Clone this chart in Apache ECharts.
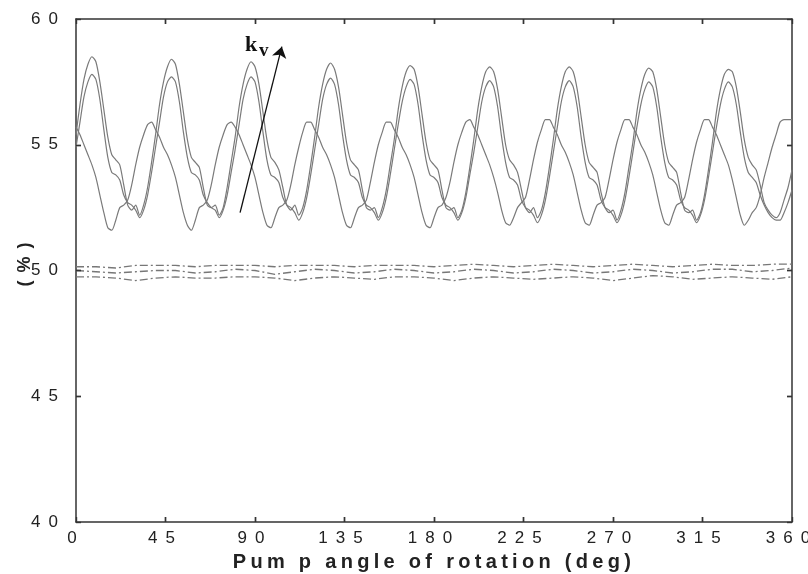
<!DOCTYPE html>
<html>
<head>
<meta charset="utf-8">
<script src="https://cdn.jsdelivr.net/npm/echarts@6/dist/echarts.min.js"></script>
<style>
  html, body { margin: 0; padding: 0; background: #fff; }
  #chart { width: 808px; height: 574px; }
</style>
</head>
<body>
<div id="chart"></div>
<script>
// Sample grid (deg) for the oscillating curves, every 2 degrees
const angleStep = 2;
const angles = [];
for (let a = 0; a <= 360; a += angleStep) angles.push(a);

// Curve 1 (highest peaks)
const curveA = [
  55.4, 56.6, 57.6, 58.2, 58.5, 58.3, 57.5, 56.4, 55.3, 54.6, 54.4, 54.2, 53.4, 52.6, 52.4, 52.6, 52.2, 52.6, 53.3, 54.3,
  55.4, 56.6, 57.5, 58.1, 58.4, 58.2, 57.4, 56.3, 55.2, 54.5, 54.3, 54.1, 53.3, 52.6, 52.5, 52.6, 52.2, 52.5, 53.3, 54.3,
  55.3, 56.5, 57.4, 58.0, 58.3, 58.1, 57.4, 56.3, 55.2, 54.5, 54.3, 54.0, 53.3, 52.6, 52.4, 52.6, 52.2, 52.5, 53.2, 54.2,
  55.3, 56.5, 57.4, 58.0, 58.25, 58.0, 57.3, 56.2, 55.1, 54.4, 54.2, 54.0, 53.2, 52.5, 52.4, 52.5, 52.1, 52.5, 53.2, 54.2,
  55.2, 56.4, 57.3, 57.9, 58.15, 58.0, 57.3, 56.2, 55.1, 54.4, 54.2, 54.0, 53.2, 52.5, 52.4, 52.5, 52.1, 52.4, 53.1, 54.1,
  55.2, 56.4, 57.3, 57.9, 58.1, 57.9, 57.2, 56.1, 55.0, 54.4, 54.2, 53.9, 53.2, 52.5, 52.3, 52.5, 52.1, 52.4, 53.1, 54.1,
  55.2, 56.4, 57.3, 57.9, 58.1, 57.9, 57.2, 56.1, 55.0, 54.3, 54.1, 53.9, 53.1, 52.5, 52.3, 52.4, 52.0, 52.4, 53.1, 54.1,
  55.1, 56.3, 57.2, 57.8, 58.05, 57.9, 57.2, 56.1, 55.0, 54.3, 54.1, 53.9, 53.1, 52.4, 52.3, 52.4, 52.0, 52.3, 53.0, 54.0,
  55.1, 56.3, 57.2, 57.8, 58.0, 57.9, 57.3, 56.3, 55.2, 54.5, 54.2, 54.0, 53.4, 52.7, 52.4, 52.2, 52.1, 52.3, 52.8, 53.3,
  54.0
];

// Curve 2 (slightly lower peaks)
const curveB = [
  54.9, 55.9, 56.9, 57.5, 57.8, 57.6, 56.8, 55.6, 54.5, 53.9, 53.8, 53.6, 53.0, 52.7, 52.6, 52.4, 52.1, 52.4, 53.0, 53.9,
  54.9, 55.9, 56.9, 57.5, 57.7, 57.5, 56.7, 55.5, 54.5, 53.9, 53.8, 53.6, 53.0, 52.7, 52.5, 52.4, 52.1, 52.4, 53.0, 53.9,
  54.8, 55.8, 56.8, 57.4, 57.7, 57.5, 56.7, 55.5, 54.4, 53.8, 53.7, 53.5, 52.9, 52.6, 52.5, 52.3, 52.0, 52.3, 52.9, 53.8,
  54.8, 55.8, 56.8, 57.4, 57.65, 57.4, 56.6, 55.4, 54.4, 53.8, 53.7, 53.5, 52.9, 52.6, 52.5, 52.3, 52.0, 52.3, 52.9, 53.8,
  54.8, 55.8, 56.7, 57.3, 57.6, 57.4, 56.6, 55.4, 54.4, 53.8, 53.7, 53.5, 52.9, 52.6, 52.5, 52.3, 52.0, 52.3, 52.9, 53.8,
  54.7, 55.7, 56.7, 57.3, 57.55, 57.3, 56.5, 55.3, 54.3, 53.7, 53.6, 53.4, 52.8, 52.5, 52.4, 52.2, 51.9, 52.2, 52.8, 53.7,
  54.7, 55.7, 56.7, 57.3, 57.55, 57.3, 56.5, 55.3, 54.3, 53.7, 53.6, 53.4, 52.8, 52.5, 52.4, 52.2, 51.9, 52.2, 52.8, 53.7,
  54.7, 55.7, 56.6, 57.2, 57.5, 57.3, 56.5, 55.3, 54.3, 53.7, 53.6, 53.4, 52.8, 52.5, 52.4, 52.2, 51.9, 52.2, 52.8, 53.7,
  54.7, 55.7, 56.6, 57.2, 57.5, 57.3, 56.6, 55.5, 54.5, 53.9, 53.7, 53.5, 53.0, 52.6, 52.3, 52.1, 52.0, 52.0, 52.3, 52.7,
  53.2
];

// Curve 3 (phase-shifted, lower amplitude)
const curveC = [
  55.7, 55.4, 55.0, 54.6, 54.2, 53.7, 53.0, 52.3, 51.7, 51.6, 52.0, 52.5, 52.6, 52.8, 53.4, 54.2, 54.9, 55.4, 55.8, 55.9,
  55.6, 55.3, 54.9, 54.6, 54.2, 53.7, 53.0, 52.3, 51.8, 51.6, 52.0, 52.5, 52.6, 52.8, 53.4, 54.2, 54.9, 55.4, 55.8, 55.9,
  55.7, 55.4, 55.0, 54.6, 54.2, 53.7, 53.0, 52.3, 51.8, 51.7, 52.1, 52.5, 52.6, 52.8, 53.4, 54.2, 54.9, 55.5, 55.9, 55.9,
  55.6, 55.3, 54.9, 54.6, 54.2, 53.7, 53.0, 52.3, 51.8, 51.7, 52.1, 52.5, 52.6, 52.8, 53.5, 54.3, 55.0, 55.5, 55.9, 55.9,
  55.6, 55.3, 54.9, 54.6, 54.2, 53.7, 53.0, 52.3, 51.8, 51.7, 52.1, 52.5, 52.6, 52.9, 53.5, 54.3, 55.0, 55.5, 55.9, 56.0,
  55.7, 55.4, 55.0, 54.6, 54.2, 53.7, 53.1, 52.4, 51.9, 51.8, 52.1, 52.5, 52.7, 52.9, 53.6, 54.4, 55.1, 55.6, 56.0, 56.0,
  55.7, 55.4, 55.0, 54.7, 54.3, 53.8, 53.1, 52.4, 51.9, 51.8, 52.2, 52.6, 52.7, 52.9, 53.6, 54.4, 55.1, 55.6, 56.0, 56.0,
  55.7, 55.4, 55.0, 54.7, 54.3, 53.8, 53.1, 52.4, 51.9, 51.8, 52.2, 52.6, 52.7, 52.9, 53.6, 54.4, 55.1, 55.6, 56.0, 56.0,
  55.7, 55.4, 55.0, 54.6, 54.2, 53.6, 52.9, 52.2, 51.8, 52.0, 52.3, 52.5, 53.0, 53.7, 54.3, 54.9, 55.4, 55.9, 56.0, 56.0,
  56.0
];

// Dash-dot curves near 50 %, sampled every 10 degrees
const flatAngles = [];
for (let a = 0; a <= 360; a += 10) flatAngles.push(a);
const flatTop = [50.15, 50.15, 50.1, 50.2, 50.2, 50.2, 50.15, 50.2, 50.2, 50.2, 50.15, 50.2, 50.2, 50.2, 50.15, 50.2, 50.2, 50.2, 50.15,
  50.2, 50.25, 50.2, 50.15, 50.2, 50.25, 50.2, 50.15, 50.2, 50.25, 50.2, 50.15, 50.2, 50.25, 50.2, 50.2, 50.25, 50.25];
const flatMid = [50.0, 49.95, 49.9, 49.95, 50.0, 50.0, 49.9, 49.95, 50.05, 50.0, 49.85, 49.95, 50.05, 50.0, 49.9, 49.95, 50.05, 50.0, 49.9,
  49.95, 50.05, 50.0, 49.9, 49.95, 50.05, 50.0, 49.9, 49.95, 50.05, 50.0, 49.9, 49.95, 50.05, 50.05, 49.95, 50.0, 50.1];
const flatLow = [49.75, 49.75, 49.7, 49.6, 49.7, 49.75, 49.7, 49.7, 49.75, 49.75, 49.7, 49.6, 49.7, 49.75, 49.7, 49.65, 49.75, 49.75, 49.7,
  49.6, 49.7, 49.75, 49.7, 49.65, 49.7, 49.75, 49.7, 49.6, 49.7, 49.8, 49.75, 49.65, 49.7, 49.75, 49.7, 49.65, 49.75];

// Axis ticks
const xTicks = [0, 45, 90, 135, 180, 225, 270, 315, 360];
const yTicks = [40, 45, 50, 55, 60];

// Annotation arrow (data coordinates) and labels
const arrowFrom = [82.5, 52.3];
const arrowTo = [103.5, 58.9];
const xName = 'Pum p angle of rotation (deg)';
const yName = '(%)';

const pair = (xs, ys) => xs.map((x, i) => [x, ys[i]]);

// Wide letter spacing of the axis titles (as in the original figure), when the canvas supports it
const titleSpacing = {};
titleSpacing[xName] = '4.3px';
titleSpacing[yName] = '8px';
(function () {
  const proto = window.CanvasRenderingContext2D && CanvasRenderingContext2D.prototype;
  if (!proto || !('letterSpacing' in proto)) return;
  const origFill = proto.fillText;
  proto.fillText = function (text) {
    const sp = titleSpacing[text];
    if (sp) {
      const prev = this.letterSpacing;
      this.letterSpacing = sp;
      const r = origFill.apply(this, arguments);
      this.letterSpacing = prev;
      return r;
    }
    return origFill.apply(this, arguments);
  };
})();

const chart = echarts.init(document.getElementById('chart'), null, { renderer: 'canvas', devicePixelRatio: 1 });

const frameColor = '#333';
const lineGray = '#7a7a7a';
const font = 'Liberation Sans, Arial, sans-serif';
const grid = { left: 76, right: 16, top: 19, bottom: 52 };

const xMin = xTicks[0], xMax = xTicks[xTicks.length - 1];
const yMin = yTicks[0], yMax = yTicks[yTicks.length - 1];

function makeAxis(kind, position, withLabels) {
  const ticks = kind === 'x' ? xTicks : yTicks;
  return {
    type: 'value',
    position: position,
    min: ticks[0],
    max: ticks[ticks.length - 1],
    interval: ticks[1] - ticks[0],
    axisLine: { show: true, onZero: false, lineStyle: { color: frameColor, width: 1.5 } },
    axisTick: { show: true, inside: true, length: 5, lineStyle: { color: frameColor, width: 1.4 } },
    splitLine: { show: false },
    axisLabel: withLabels
      ? { show: true, fontSize: 17, color: '#222', margin: kind === 'x' ? 8 : 10, fontFamily: font }
      : { show: false }
  };
}

const xBottom = makeAxis('x', 'bottom', true);
xBottom.name = xName;
xBottom.nameLocation = 'middle';
xBottom.nameGap = 30;
xBottom.nameTextStyle = { fontSize: 20, fontWeight: 'bold', color: '#222', fontFamily: font };
const xTop = makeAxis('x', 'top', false);
const yLeft = makeAxis('y', 'left', true);
yLeft.name = yName;
yLeft.nameLocation = 'middle';
yLeft.nameGap = 42;
yLeft.nameRotate = 90;
yLeft.nameTextStyle = { fontSize: 18, fontWeight: 'bold', color: '#222', fontFamily: font, padding: [0, 0, 0, 20] };
const yRight = makeAxis('y', 'right', false);

// Inward tick marks on all four sides of the frame, drawn through the axes' scales
const tickPx = 5;
const plotW = 808 - grid.left - grid.right;
const plotH = 574 - grid.top - grid.bottom;
const dxTick = tickPx * (xMax - xMin) / plotW;
const dyTick = tickPx * (yMax - yMin) / plotH;
const tickSegments = [];
xTicks.slice(1, -1).forEach(x => {
  tickSegments.push([{ coord: [x, yMin] }, { coord: [x, yMin + dyTick] }]);
  tickSegments.push([{ coord: [x, yMax] }, { coord: [x, yMax - dyTick] }]);
});
yTicks.slice(1, -1).forEach(y => {
  tickSegments.push([{ coord: [xMin, y] }, { coord: [xMin + dxTick, y] }]);
  tickSegments.push([{ coord: [xMax, y] }, { coord: [xMax - dxTick, y] }]);
});

const solidSeries = (name, ys) => ({
  name, type: 'line', data: pair(angles, ys), showSymbol: false, smooth: 0.25,
  lineStyle: { color: lineGray, width: 1.2 }, silent: true
});
const dashSeries = (name, ys) => ({
  name, type: 'line', data: pair(flatAngles, ys), showSymbol: false,
  lineStyle: { color: '#777', width: 1.3, type: [8, 3, 2, 3] }, silent: true
});

const series = [
  solidSeries('A', curveA),
  solidSeries('B', curveB),
  solidSeries('C', curveC),
  dashSeries('D1', flatTop),
  dashSeries('D2', flatMid),
  dashSeries('D3', flatLow)
];
series[0].markLine = {
  silent: true,
  animation: false,
  symbol: ['none', 'arrow'],
  symbolSize: 11,
  label: { show: false },
  emphasis: { disabled: true },
  lineStyle: { color: '#111', width: 1.3, type: 'solid' },
  data: [[{ coord: arrowFrom }, { coord: arrowTo }]]
};
series[3].markLine = {
  silent: true,
  animation: false,
  symbol: ['none', 'none'],
  label: { show: false },
  emphasis: { disabled: true },
  lineStyle: { color: frameColor, width: 1.4, type: 'solid' },
  data: tickSegments
};

chart.setOption({
  animation: false,
  backgroundColor: '#fff',
  grid: Object.assign({ containLabel: false, outerBoundsMode: 'none' }, grid),
  xAxis: [xBottom, xTop],
  yAxis: [yLeft, yRight],
  graphic: [
    { type: 'text', left: 245, top: 34, silent: true,
      style: { text: 'k', fontSize: 22, fontWeight: 'bold', fill: '#111', fontFamily: 'Liberation Serif, Times New Roman, serif' } },
    { type: 'text', left: 259, top: 42, silent: true,
      style: { text: 'v', fontSize: 19, fontWeight: 'bold', fill: '#111', fontFamily: 'Liberation Serif, Times New Roman, serif' } }
  ],
  series
});
</script>
</body>
</html>
